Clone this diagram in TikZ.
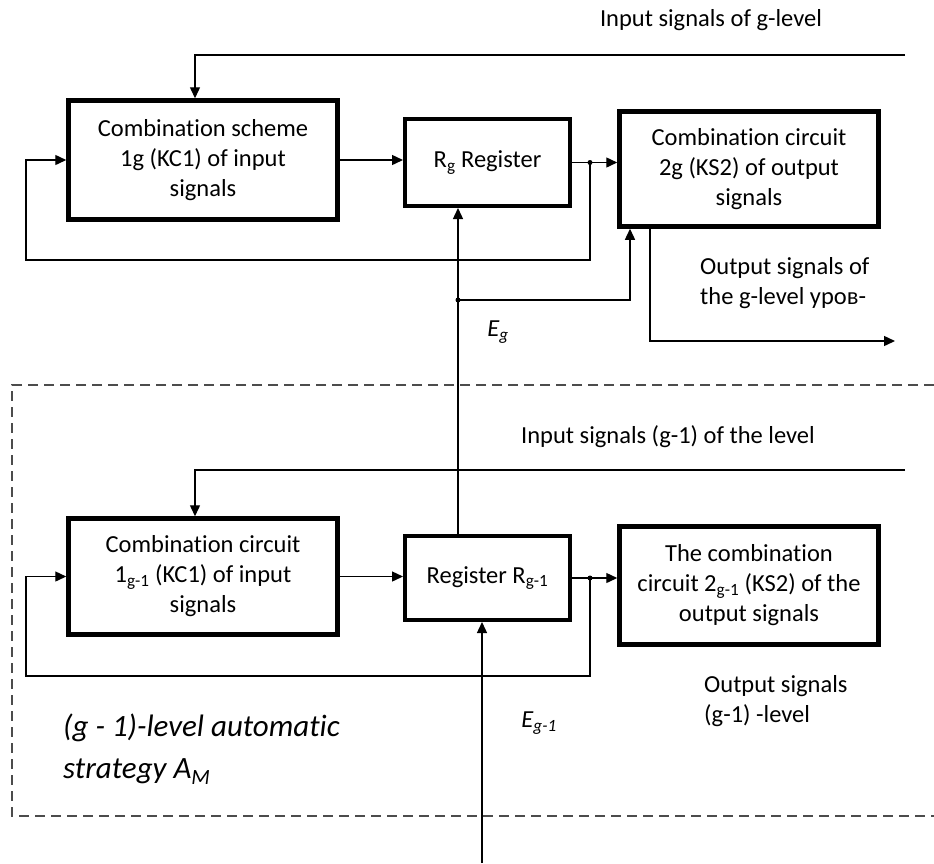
\documentclass[tikz,border=0pt]{standalone}
\usepackage{fontspec}
\setmainfont{Carlito}[Ligatures=NoCommon]
\usetikzlibrary{arrows.meta}
\begin{document}
\begin{tikzpicture}[x=1pt,y=-1pt,
  box/.style={draw, line width=4.5pt, inner sep=0pt, align=center, font=\fontsize{24.5}{30}\selectfont},
  wire/.style={line width=1.4pt},
  arr/.style={wire, -{Triangle[length=11pt,width=10pt]}},
  dot/.style={circle, fill, inner sep=0pt, minimum size=5pt},
  lbl/.style={font=\fontsize{24.5}{30}\selectfont, inner sep=0pt},
  frame/.style={line width=1.5pt, draw=gray!60!black, dash pattern=on 10pt off 6pt}]
\useasboundingbox (0,0) rectangle (934,863);
% upper level
\node[box, minimum width=269pt, minimum height=119pt] (kc1) at (203,160) {Combination scheme\\1g (KC1) of input\\signals};
\node[box, line width=4pt, minimum width=165pt, minimum height=87pt] (reg) at (487.5,162.5) {R\textsubscript{g} Register};
\node[box, minimum width=259pt, minimum height=115pt] (ks2) at (749,169) {Combination circuit\\2g (KS2) of output\\signals};
% lower level
\node[box, minimum width=269pt, minimum height=116pt] (kc1b) at (203,576.5) {Combination circuit\\1\textsubscript{g-1} (KC1) of input\\signals};
\node[box, line width=4pt, minimum width=165pt, minimum height=84pt] (regb) at (487.5,578) {Register R\textsubscript{g-1}};
\node[box, minimum width=259pt, minimum height=118pt] (ks2b) at (749,585.5) {The combination\\circuit 2\textsubscript{g-1} (KS2) of the\\output signals};
% coordinates
\coordinate (in1) at (905,55);
\coordinate (xa) at (195,0);
\coordinate (fb1) at (26,260);
\coordinate (j1) at (590,162.5);
\coordinate (xe) at (458,0);
\coordinate (j2) at (458,300);
\coordinate (xk) at (630,0);
\coordinate (xo) at (650,0);
\coordinate (out1) at (895,341);
\coordinate (in2) at (905,470);
\coordinate (fb2) at (26,676);
\coordinate (j3) at (590,578);
\coordinate (xb) at (482,0);
\coordinate (bin) at (482,863);
% dashed frame
\draw[frame] (934,385) -- (12,385) -- (12,816) -- (934,816);
% upper wires
\draw[arr] (in1) -| (kc1.north -| xa);
\draw[arr] (j1) |- (fb1) |- (kc1.west);
\draw[arr] (kc1.east) -- (reg.west |- kc1.east);
\draw[arr] (reg.east) -- (reg.east -| ks2.west);
\node[dot] (d1) at (j1) {};
\draw[arr] (regb.north -| xe) -- (reg.south -| xe);
\node[dot] (d2) at (j2) {};
\draw[arr] (j2) -| (ks2.south -| xk);
\draw[arr] (ks2.south -| xo) |- (out1);
% lower wires
\draw[arr] (in2) -| (kc1b.north -| xa);
\draw[arr] (j3) |- (fb2) |- (kc1b.west);
\draw[arr] (kc1b.east) -- (regb.west |- kc1b.east);
\draw[arr] (regb.east) -- (regb.east -| ks2b.west);
\node[dot] (d3) at (j3) {};
\draw[arr] (bin) -- (regb.south -| xb);
% labels
\node[lbl] (t1) at (711,20) {Input signals of g-level};
\node[lbl, align=left, anchor=west] (t2) at (700,283) {Output signals of\\the g-level уров-};
\node[lbl] (eg) at (498,332) {\textit{E}\textsubscript{\textit{g}}};
\node[lbl] (t3) at (668,437) {Input signals (g-1) of the level};
\node[lbl, align=left, anchor=west] (t4) at (704,701) {Output signals\\(g-1) -level};
\node[lbl] (eg1) at (539,723) {\textit{E}\textsubscript{\textit{g-1}}};
\node[font=\fontsize{31}{42}\selectfont\itshape, align=left, anchor=west, inner sep=0pt] (t5) at (63,749) {(g - 1)-level automatic\\strategy \textit{A}\textsubscript{\textit{M}}};
\end{tikzpicture}
\end{document}
